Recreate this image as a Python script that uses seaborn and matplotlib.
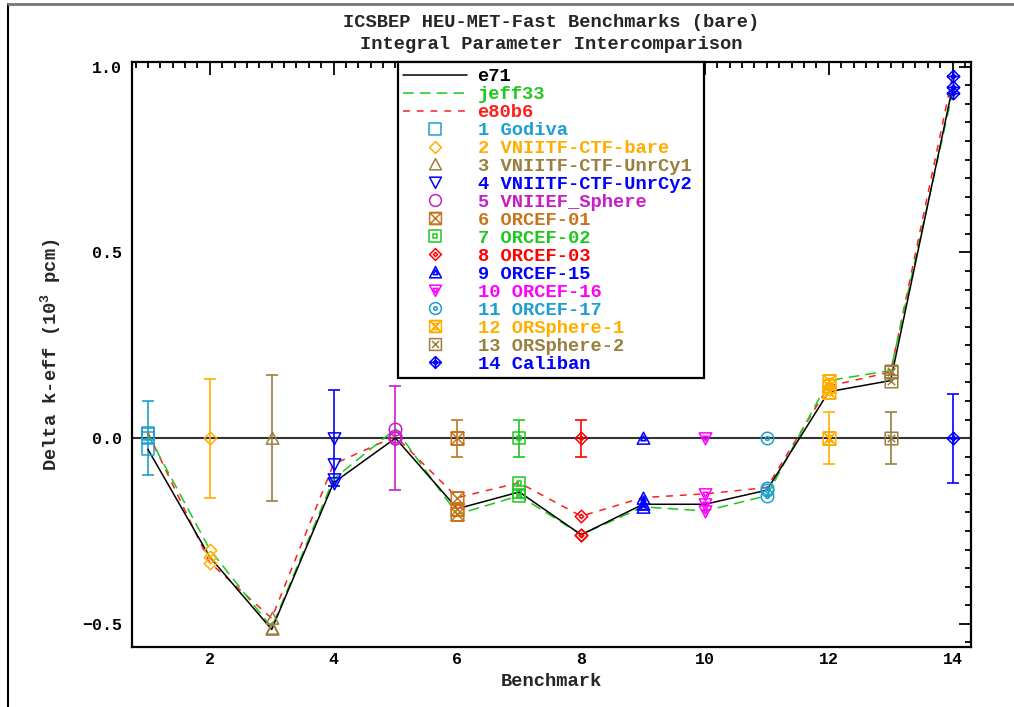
import numpy as np
import pandas as pd
import matplotlib
matplotlib.use("Agg")
import matplotlib.pyplot as plt
import seaborn as sns
from matplotlib.path import Path
from matplotlib.lines import Line2D
from matplotlib.legend_handler import HandlerLine2D

# Data
bench = list(range(1, 15))
names = ["Godiva", "VNIITF-CTF-bare", "VNIITF-CTF-UnrCy1", "VNIITF-CTF-UnrCy2",
         "VNIIEF_Sphere", "ORCEF-01", "ORCEF-02", "ORCEF-03", "ORCEF-15",
         "ORCEF-16", "ORCEF-17", "ORSphere-1", "ORSphere-2", "Caliban"]
colors = ["#1e9fd2", "#ffae00", "#9a7f3e", "#0000ff", "#c81ec8", "#c8731e",
          "#1ec81e", "#ff0000", "#0000ff", "#ff00ff", "#1e9fd2", "#ffae00",
          "#9a7f3e", "#0000ff"]
exp_unc = [0.10, 0.16, 0.17, 0.13, 0.14, 0.05, 0.05, 0.05, 0.0, 0.0, 0.0, 0.07, 0.07, 0.12]
e71 = [-0.03, -0.32, -0.515, -0.12, 0.0, -0.19, -0.145, -0.26, -0.178, -0.178, -0.14, 0.125, 0.155, 0.945]
jeff33 = [0.01, -0.30, -0.51, -0.11, 0.025, -0.205, -0.155, -0.26, -0.185, -0.196, -0.155, 0.155, 0.182, 0.93]
e80b6 = [0.015, -0.335, -0.485, -0.07, 0.005, -0.16, -0.12, -0.21, -0.16, -0.15, -0.133, 0.14, 0.178, 0.975]
libs = ["e71", "jeff33", "e80b6"]
lib_colors = {"e71": "black", "jeff33": "#1ec81e", "e80b6": "#ff1e1e"}
lib_dashes = {"e71": "", "jeff33": (7, 4), "e80b6": (4.5, 4.5)}

sns.set_theme(style="white")
plt.rcParams['font.family'] = ['Liberation Mono', 'DejaVu Sans Mono']
plt.rcParams['font.weight'] = 'bold'
plt.rcParams['axes.labelweight'] = 'bold'
plt.rcParams['axes.titleweight'] = 'bold'
plt.rcParams['mathtext.default'] = 'regular'


# --- marker shapes ---
def poly(pts, s=1.0):
    pts = [(x * s, y * s) for x, y in pts]
    pts = pts + [pts[0]]
    codes = [Path.MOVETO] + [Path.LINETO] * (len(pts) - 2) + [Path.CLOSEPOLY]
    return Path(pts, codes)


SQ = [(-1, -1), (1, -1), (1, 1), (-1, 1)]
DM = [(0, -1), (1, 0), (0, 1), (-1, 0)]
TU = [(-1, -0.9), (1, -0.9), (0, 1)]
TD = [(-1, 0.9), (1, 0.9), (0, -1)]
HG = [(-1, 1), (1, 1), (-1, -1), (1, -1)]
cp = Path.make_compound_path
markers = [
    poly(SQ),
    poly(DM),
    poly(TU),
    poly(TD),
    Path.unit_circle(),
    cp(poly(SQ), poly(HG)),
    cp(poly(SQ), poly(SQ, 0.3)),
    cp(poly(DM), poly(DM, 0.35)),
    cp(poly(TU), poly(TU, 0.4)),
    cp(poly(TD), poly(TD, 0.4)),
    cp(Path.unit_circle(), Path.circle((0, 0), 0.3)),
    cp(poly(SQ), poly(HG), poly(HG, 0.5)),
    cp(poly(SQ), Path([(-0.6, -0.6), (0.6, 0.6)], [1, 2]), Path([(-0.6, 0.6), (0.6, -0.6)], [1, 2])),
    cp(poly(DM), poly(DM, 0.4), Path([(-1, 0), (1, 0)], [1, 2]), Path([(0, -1), (0, 1)], [1, 2])),
]

fig = plt.figure(figsize=(10.14, 7.07), dpi=100)
ax = fig.add_axes([0.130, 0.085, 0.8277, 0.8275])

# library lines
df = pd.DataFrame({
    "bench": bench * 3,
    "val": e71 + jeff33 + e80b6,
    "lib": ["e71"] * 14 + ["jeff33"] * 14 + ["e80b6"] * 14,
})
ax.axhline(0, color="#333333", lw=1.5, zorder=1)
sns.lineplot(data=df, x="bench", y="val", hue="lib", style="lib",
             palette=lib_colors, dashes=lib_dashes, hue_order=libs[::-1],
             style_order=libs[::-1], lw=1.1, legend=False, ax=ax, zorder=3)

# benchmark markers: experiment at zero with uncertainty, plus each library
for i, b in enumerate(bench):
    c = colors[i]
    if exp_unc[i] > 0:
        ax.errorbar(b, 0, yerr=exp_unc[i], fmt="none", ecolor=c, elinewidth=1.2,
                    capsize=4, capthick=1.2, zorder=2)
    ax.plot([b, b, b, b], [0, e71[i], jeff33[i], e80b6[i]], ls="none",
            marker=markers[i], ms=9, mew=1.1, mec=c, mfc="none", zorder=4)

ax.set_xlim(0.74, 14.3)
ax.set_ylim(-0.562, 1.013)
ax.set_xticks([2, 4, 6, 8, 10, 12, 14])
ax.set_xticks(np.arange(0.8, 14.3, 0.2), minor=True)
ax.set_yticks([-0.5, 0.0, 0.5, 1.0])
ax.set_yticks(np.arange(-0.55, 1.01, 0.05), minor=True)
ax.set_yticklabels(["\u22120.5", "0.0", "0.5", "1.0"])
ax.tick_params(which="both", direction="in", top=True, right=True,
               labelsize=12, width=1.3, colors="black", pad=7)
ax.tick_params(axis="x", pad=4)
ax.tick_params(which="major", length=9)
ax.tick_params(which="minor", length=4.5)
for s in ax.spines.values():
    s.set_linewidth(1.6)
    s.set_color("black")

ax.set_xlabel("Benchmark", fontsize=13.5, labelpad=4)
ax.set_ylabel("Delta k-eff (10$^3$ pcm)", fontsize=13.5, labelpad=14)
ax.set_title("ICSBEP HEU-MET-Fast Benchmarks (bare)\nIntegral Parameter Intercomparison",
             fontsize=13.5, pad=9, linespacing=1.38)


# legend with markers at the right end of the handle
class RightMarker(HandlerLine2D):
    def get_xdata(self, legend, xdescent, ydescent, width, height, fontsize):
        xdata = np.array([-xdescent, width - xdescent])
        return xdata, np.array([width - xdescent - 0.4 * fontsize])


handles = []
labels = []
for lib in libs:
    h = Line2D([0], [0], color=lib_colors[lib], lw=1.1)
    if lib_dashes[lib]:
        h.set_dashes(lib_dashes[lib])
    handles.append(h)
    labels.append(lib)
for i, b in enumerate(bench):
    handles.append(Line2D([0], [0], ls="none", marker=markers[i], ms=8.5, mew=1.1,
                          mec=colors[i], mfc="none"))
    labels.append(f"{b} {names[i]}")
leg = ax.legend(handles, labels, loc="upper left", bbox_to_anchor=(0.317, 0.999, 0.365, 0),
                mode="expand", fontsize=13.5, frameon=True, fancybox=False,
                edgecolor="black", framealpha=1, handlelength=3.4, handletextpad=0.55,
                labelspacing=0.045, borderpad=0.3, borderaxespad=0,
                handler_map={Line2D: RightMarker()})
leg.get_frame().set_linewidth(1.6)
for t, c in zip(leg.get_texts(), [lib_colors[l] for l in libs] + colors):
    t.set_color(c)

# page frame
fig.add_artist(Line2D([0.008, 0.008], [0, 0.995], transform=fig.transFigure, color="black", lw=1.5))
fig.add_artist(Line2D([0.008, 1.0], [0.995, 0.995], transform=fig.transFigure, color="#777777", lw=2))

fig.savefig("out.png", dpi=100)
